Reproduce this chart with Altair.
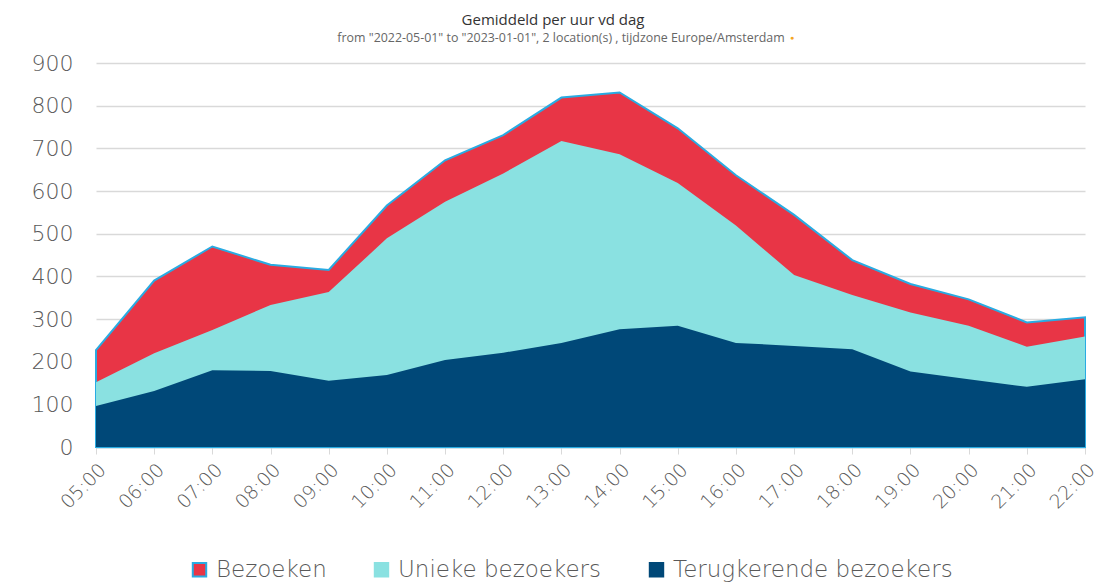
import altair as alt
import pandas as pd

hours = ["05:00", "06:00", "07:00", "08:00", "09:00", "10:00", "11:00", "12:00", "13:00",
         "14:00", "15:00", "16:00", "17:00", "18:00", "19:00", "20:00", "21:00", "22:00"]
bezoeken = [227, 390, 470, 427, 415, 566, 672, 731, 819, 831, 747, 637, 544, 438, 382, 346, 292, 304]
unieke = [152, 220, 274, 333, 363, 489, 575, 641, 717, 686, 619, 519, 403, 356, 315, 284, 235, 259]
terugkerend = [96, 131, 180, 178, 155, 169, 204, 221, 244, 276, 284, 244, 237, 229, 177, 159, 141, 159]

series_names = ["Bezoeken", "Unieke bezoekers", "Terugkerende bezoekers"]
series_colors = ["#E83546", "#8AE1E1", "#004878"]
series_strokes = ["#29abe2", "#8AE1E1", "#004878"]

title_text = "Gemiddeld per uur vd dag"
subtitle_text = 'from "2022-05-01" to "2023-01-01", 2 location(s) , tijdzone Europe/Amsterdam'

rows = []
for name, vals in zip(series_names, [bezoeken, unieke, terugkerend]):
    for h, v in zip(hours, vals):
        rows.append({"uur": h, "waarde": v, "reeks": name})
df = pd.DataFrame(rows)

FONT = "DejaVu Sans"
W = 300

x_enc = alt.X("uur:O", sort=hours, title=None,
              scale=alt.Scale(type="point", padding=0),
              axis=alt.Axis(labelAngle=-45, labelFontSize=19, labelColor="#595959",
                            labelFont=FONT, labelFontWeight=W, tickColor="#d9d9d9", tickSize=7,
                            domainColor="#a9cfe0", domainWidth=2, grid=False,
                            labelPadding=6))
y_enc = alt.Y("waarde:Q", title=None, stack=None,
              scale=alt.Scale(domain=[0, 900], nice=False),
              axis=alt.Axis(values=list(range(0, 901, 100)), labelFontSize=22,
                            labelColor="#595959", labelFont=FONT, labelFontWeight=W,
                            domain=False, ticks=False, gridColor="#d9d9d9", gridWidth=1.5,
                            labelPadding=23))
legend = alt.Legend(title=None, orient="none", direction="horizontal",
                    legendX=92, legendY=495,
                    labelFontSize=23, labelColor="#595959",
                    labelFont=FONT, labelFontWeight=W, labelLimit=0,
                    symbolType="square", symbolSize=180, symbolStrokeWidth=2,
                    columnPadding=43, labelOffset=5)
color_enc = alt.Color("reeks:N",
                      scale=alt.Scale(domain=series_names, range=series_colors),
                      sort=series_names, legend=legend)
stroke_enc = alt.Stroke("reeks:N",
                        scale=alt.Scale(domain=series_names, range=series_strokes),
                        sort=series_names, legend=legend)

base = alt.Chart(df)

layer_b = base.transform_filter(alt.datum.reeks == "Bezoeken").mark_area(
    strokeWidth=2, opacity=1, fillOpacity=1
).encode(x=x_enc, y=y_enc, color=color_enc, stroke=stroke_enc)
layer_u = base.transform_filter(alt.datum.reeks == "Unieke bezoekers").mark_area(
    opacity=1
).encode(x=x_enc, y=y_enc, color=color_enc)
layer_t = base.transform_filter(alt.datum.reeks == "Terugkerende bezoekers").mark_area(
    opacity=1
).encode(x=x_enc, y=y_enc, color=color_enc)

title_mark = alt.Chart(pd.DataFrame({"t": [title_text]})).mark_text(
    font="Open Sans", fontSize=15, color="#333333", align="center", baseline="middle"
).encode(text="t:N", x=alt.value(457), y=alt.value(-43))
subtitle_mark = alt.Chart(pd.DataFrame({"t": [subtitle_text]})).mark_text(
    font="Open Sans", fontSize=12.4, color="#666666", align="center", baseline="middle"
).encode(text="t:N", x=alt.value(465), y=alt.value(-25))
dot = alt.Chart(pd.DataFrame({"t": ["●"]})).mark_text(
    color="#f5a623", fontSize=7, align="left", baseline="middle"
).encode(text="t:N", x=alt.value(694), y=alt.value(-25))

chart = alt.layer(layer_b, layer_u, layer_t, title_mark, subtitle_mark, dot).properties(
    width=989, height=384,
    autosize=alt.AutoSizeParams(type="none"),
    padding={"left": 88, "top": 55, "right": 13, "bottom": 135},
).configure_view(stroke=None)

chart.save("out.html", embed_options={"renderer": "svg", "actions": False})
